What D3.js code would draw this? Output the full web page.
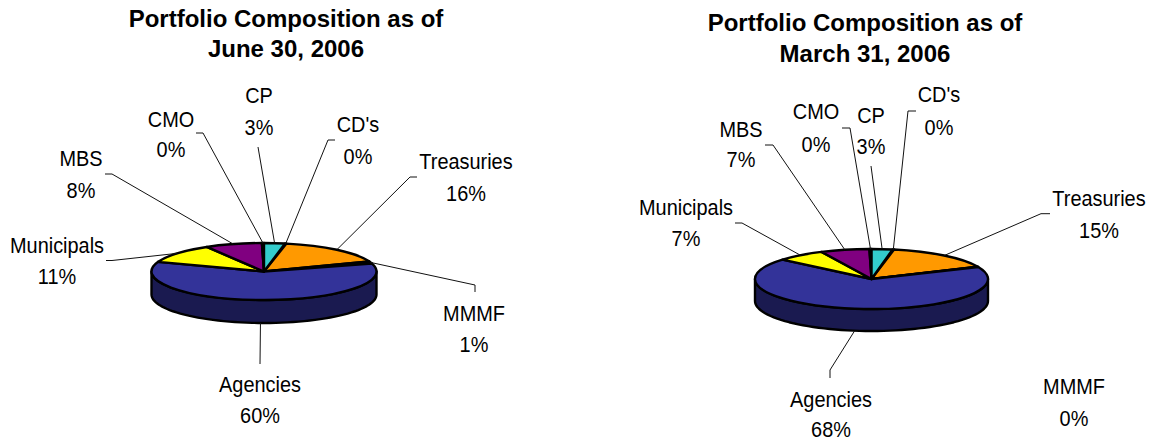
<!DOCTYPE html>
<html><head><meta charset="utf-8">
<script src="https://cdn.jsdelivr.net/npm/d3@7"></script>
<style>
html,body{margin:0;padding:0;background:#fff}
svg{display:block}
text{font-family:"Liberation Sans",Arial,sans-serif;fill:#000;text-anchor:middle}
.lab{font-size:22px}
.ttl{font-size:24px;font-weight:bold}
</style></head><body>
<svg id="c" width="1150" height="440"></svg>
<script>
// Data, clockwise from the top of each pie
const categories = ["CD's","Treasuries","MMMF","Agencies","Municipals","MBS","CMO","CP"];
const juneValues  = [0.2,16,1.3,60,11,8.2,0.3,3];
const marchValues = [0.2,15.3,0.1,68,6.8,6.8,0.3,2.9];
const sliceColors = ["#33cccc","#ff9900","#008080","#333399","#ffff00","#800080","#000000","#33cccc"];
const sideColor = "#1a1a50";

const pct = v => Math.round(v) + "%";
const svg = d3.select("#c");
const squeeze = 0.905;

function drawPie(cfg){
  const g = svg.append("g");
  const pie = d3.pie().sort(null).value(d=>d)
    .startAngle(cfg.start*2*Math.PI).endAngle((cfg.start+1)*2*Math.PI);
  const arcs = pie(cfg.values);
  const k = cfg.ry/cfg.rx;
  const arc = d3.arc().innerRadius(0).outerRadius(cfg.rx);
  const px = a => cfg.cx + cfg.rx*Math.sin(a);
  const py = a => cfg.cy - cfg.ry*Math.cos(a);
  const line = d3.line();

  // side wall, only on the front half
  arcs.forEach(d=>{
    const a0 = Math.max(d.startAngle, Math.PI/2), a1 = Math.min(d.endAngle, 3*Math.PI/2);
    if(a1<=a0) return;
    const pts = d3.range(0,61).map(i=>a0+(a1-a0)*i/60);
    const top = pts.map(a=>[px(a),py(a)]);
    const bot = pts.slice().reverse().map(a=>[px(a),py(a)+cfg.depth]);
    g.append("path").attr("d", line(top.concat(bot))+"Z")
      .attr("fill",sideColor).attr("stroke","#000").attr("stroke-width",2.4).attr("stroke-linejoin","round");
  });
  // top slices
  g.selectAll("path.s").data(arcs).enter().append("path").attr("class","s")
    .attr("d",arc)
    .attr("transform",`translate(${cfg.cx},${cfg.cy}) scale(1,${k})`)
    .attr("fill",(d,i)=>sliceColors[i])
    .attr("stroke","#000").attr("stroke-width",2.4).attr("stroke-linejoin","round")
    .style("vector-effect","non-scaling-stroke");

  // leaders and labels
  const label = (x,y,t)=>g.append("text").attr("class","lab")
    .attr("transform",`translate(${x},${y}) scale(${squeeze},1)`).text(t);
  categories.forEach((c,i)=>{
    const l = cfg.layout[c];
    if(l.route){
      const a = (arcs[i].startAngle+arcs[i].endAngle)/2;
      const n = ((a%(2*Math.PI))+2*Math.PI)%(2*Math.PI);
      const front = n>Math.PI/2 && n<3*Math.PI/2;
      const start = [px(a), py(a)+(front?cfg.depth:0)];
      g.append("path").attr("d",line([start].concat(l.route)))
        .attr("fill","none").attr("stroke","#111").attr("stroke-width",1);
    }
    label(l.x,l.y[0],c);
    label(l.x,l.y[1],pct(cfg.values[i]));
  });
  cfg.title.forEach((t,i)=>g.append("text").attr("class","ttl").attr("x",cfg.tx).attr("y",cfg.ty[i]).text(t));
}

drawPie({
  values:juneValues, cx:264, cy:271.5, rx:112.5, ry:28.5, depth:23, start:0.03,
  title:["Portfolio Composition as of","June 30, 2006"], tx:286, ty:[27,57],
  layout:{
    "CD's":{x:358,y:[132,164],route:[[328,140],[335,140]]},
    "Treasuries":{x:466,y:[169,201],route:[[410,177],[417,177]]},
    "MMMF":{x:474,y:[321,352],route:[[475,285],[475,292]]},
    "Agencies":{x:260,y:[392,423],route:[[260,364]]},
    "Municipals":{x:57,y:[253,284],route:[[112,260.5],[106,260.5]]},
    "MBS":{x:81,y:[166,198],route:[[112,174],[105,174]]},
    "CMO":{x:171,y:[127,157],route:[[203,133],[196,133]]},
    "CP":{x:259,y:[103,135],route:[[258,147]]}
  }
});
drawPie({
  values:marchValues, cx:871.5, cy:279, rx:116.5, ry:30, depth:22, start:0.029,
  title:["Portfolio Composition as of","March 31, 2006"], tx:865, ty:[31,62],
  layout:{
    "CD's":{x:939,y:[102,135],route:[[908,111],[916,111]]},
    "Treasuries":{x:1099,y:[206,238],route:[[1041,213.7],[1050,213.7]]},
    "MMMF":{x:1074,y:[394,426]},
    "Agencies":{x:831,y:[407,437],route:[[830,370],[830,378]]},
    "Municipals":{x:686,y:[215,246],route:[[742,223],[735,223]]},
    "MBS":{x:741,y:[137,167],route:[[773,145],[765,145]]},
    "CMO":{x:816,y:[119,152],route:[[850,128],[842,128]]},
    "CP":{x:871,y:[123,154],route:[[871,166]]}
  }
});
</script></body></html>
